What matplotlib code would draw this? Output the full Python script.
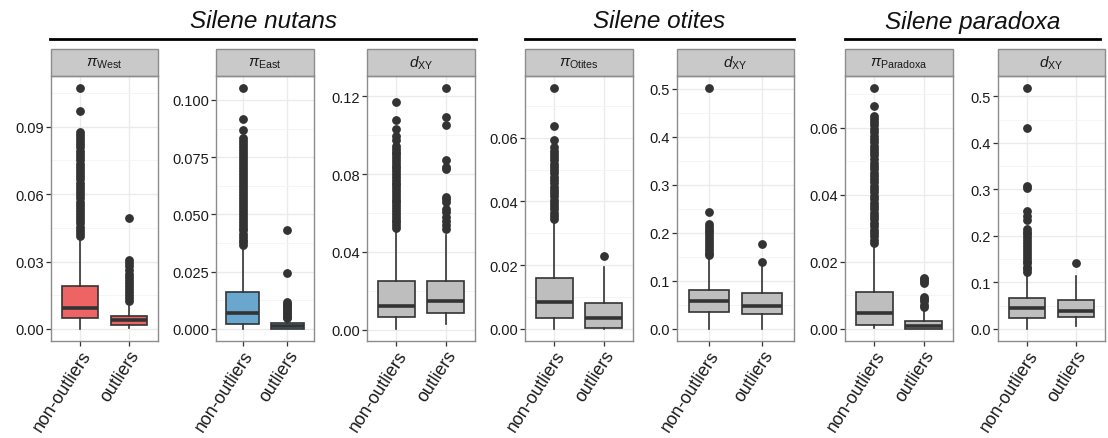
import numpy as np
import matplotlib.pyplot as plt
from matplotlib.patches import Rectangle
from matplotlib.ticker import MultipleLocator, FormatStrFormatter

plt.rcParams['font.family'] = ['Liberation Sans', 'DejaVu Sans']
plt.rcParams['mathtext.fontset'] = 'custom'
plt.rcParams['mathtext.rm'] = 'Liberation Sans'
plt.rcParams['mathtext.it'] = 'Liberation Sans:italic'

groups = ['non-outliers', 'outliers']

# S. nutans, pi West
west_q1 = [0.00475, 0.0018]
west_med = [0.0093, 0.0040]
west_q3 = [0.0193, 0.0059]
west_lo = [0.0, 0.0006]
west_hi = [0.0415, 0.0104]
west_fl_non = [0.0415, 0.0428, 0.0441, 0.0455, 0.0470, 0.0484, 0.0497, 0.0511, 0.0526,
               0.0540, 0.0553, 0.0567, 0.0582, 0.0596, 0.0610, 0.0623, 0.0637, 0.0651,
               0.0666, 0.0680, 0.0694, 0.0708, 0.0722, 0.0736, 0.0750, 0.0764, 0.0779,
               0.0793, 0.0808, 0.0822, 0.0836, 0.0851, 0.0863, 0.0875, 0.0971, 0.1072]
west_fl_out = [0.0126, 0.0138, 0.0150, 0.0163, 0.0178, 0.0192, 0.0205, 0.0218, 0.0232,
               0.0245, 0.0262, 0.0278, 0.0293, 0.0308, 0.0492]

# S. nutans, pi East
east_q1 = [0.0022, 0.0001]
east_med = [0.0071, 0.0014]
east_q3 = [0.0162, 0.0025]
east_lo = [0.0, 0.0]
east_hi = [0.0365, 0.0043]
east_fl_non = [0.0365, 0.0378, 0.0390, 0.0403, 0.0416, 0.0430, 0.0442, 0.0455, 0.0468,
               0.0481, 0.0495, 0.0508, 0.0521, 0.0534, 0.0547, 0.0560, 0.0573, 0.0586,
               0.0599, 0.0612, 0.0625, 0.0638, 0.0651, 0.0664, 0.0677, 0.0690, 0.0703,
               0.0716, 0.0729, 0.0742, 0.0755, 0.0768, 0.0781, 0.0794, 0.0807, 0.0820,
               0.0833, 0.0867, 0.0916, 0.1052]
east_fl_out = [0.0047, 0.0054, 0.0062, 0.0070, 0.0078, 0.0086, 0.0094, 0.0103, 0.0110,
               0.0116, 0.0246, 0.0430]

# S. nutans, dXY
nut_dxy_q1 = [0.0062, 0.0087]
nut_dxy_med = [0.0123, 0.0149]
nut_dxy_q3 = [0.0250, 0.0250]
nut_dxy_lo = [0.0003, 0.0029]
nut_dxy_hi = [0.0522, 0.0488]
nut_dxy_fl_non = [0.0522, 0.0536, 0.0551, 0.0566, 0.0580, 0.0595, 0.0610, 0.0624, 0.0639,
                  0.0654, 0.0668, 0.0683, 0.0698, 0.0712, 0.0727, 0.0742, 0.0756, 0.0771,
                  0.0786, 0.0800, 0.0815, 0.0830, 0.0844, 0.0859, 0.0874, 0.0888, 0.0903,
                  0.0916, 0.0928, 0.0945, 0.0974, 0.0996, 0.1034, 0.1078, 0.1173]
nut_dxy_fl_out = [0.0515, 0.0539, 0.0560, 0.0580, 0.0603, 0.0620, 0.0654, 0.0671, 0.0680,
                  0.0825, 0.0837, 0.0875, 0.1055, 0.1096, 0.1243]

# S. otites, pi Otites
oti_q1 = [0.00355, 0.0002]
oti_med = [0.0086, 0.0033]
oti_q3 = [0.0161, 0.0080]
oti_lo = [0.0, 0.0]
oti_hi = [0.0340, 0.0193]
oti_fl_non = [0.0345, 0.0355, 0.0365, 0.0375, 0.0386, 0.0396, 0.0406, 0.0416, 0.0427,
              0.0437, 0.0447, 0.0457, 0.0468, 0.0478, 0.0488, 0.0498, 0.0509, 0.0519,
              0.0529, 0.0539, 0.0550, 0.0560, 0.0570, 0.0593, 0.0638, 0.0756]
oti_fl_out = [0.0230]

# S. otites, dXY
oti_dxy_q1 = [0.0359, 0.0317]
oti_dxy_med = [0.0572, 0.0483]
oti_dxy_q3 = [0.0821, 0.0745]
oti_dxy_lo = [0.0, 0.0]
oti_dxy_hi = [0.1476, 0.1300]
oti_dxy_fl_non = [0.153, 0.159, 0.165, 0.171, 0.177, 0.183, 0.189, 0.195, 0.201, 0.207,
                  0.213, 0.2186, 0.244, 0.5015]
oti_dxy_fl_out = [0.140, 0.176]

# S. paradoxa, pi Paradoxa
par_q1 = [0.0012, 0.0001]
par_med = [0.0047, 0.0010]
par_q3 = [0.0111, 0.0025]
par_lo = [0.0002, 0.0]
par_hi = [0.0250, 0.0060]
par_fl_non = [0.0256, 0.0266, 0.0277, 0.0287, 0.0296, 0.0306, 0.0317, 0.0327, 0.0336,
              0.0346, 0.0357, 0.0367, 0.0376, 0.0386, 0.0397, 0.0407, 0.0416, 0.0426,
              0.0437, 0.0447, 0.0456, 0.0466, 0.0477, 0.0487, 0.0496, 0.0506, 0.0517,
              0.0527, 0.0536, 0.0546, 0.0557, 0.0567, 0.0576, 0.0586, 0.0597, 0.0607,
              0.0616, 0.0626, 0.0636, 0.0663, 0.0718]
par_fl_out = [0.0065, 0.0070, 0.0082, 0.0088, 0.0094, 0.0138, 0.0143, 0.0150, 0.0153]

# S. paradoxa, dXY
par_dxy_q1 = [0.0243, 0.0257]
par_dxy_med = [0.0450, 0.0393]
par_dxy_q3 = [0.0657, 0.0614]
par_dxy_lo = [0.0, 0.0064]
par_dxy_hi = [0.1200, 0.1136]
par_dxy_fl_non = [0.122, 0.128, 0.134, 0.141, 0.147, 0.153, 0.160, 0.166, 0.172, 0.179,
                  0.185, 0.191, 0.198, 0.204, 0.208, 0.215, 0.235, 0.2436, 0.253, 0.304,
                  0.308, 0.433, 0.518]
par_dxy_fl_out = [0.1414]

strip_labels = [r'$\pi_{\mathrm{West}}$', r'$\pi_{\mathrm{East}}$', r'$d_{\mathrm{XY}}$',
                r'$\pi_{\mathrm{Otites}}$', r'$d_{\mathrm{XY}}$',
                r'$\pi_{\mathrm{Paradoxa}}$', r'$d_{\mathrm{XY}}$']
species = ['Silene nutans', 'Silene otites', 'Silene paradoxa']

panels = [
    (west_q1, west_med, west_q3, west_lo, west_hi, [west_fl_non, west_fl_out]),
    (east_q1, east_med, east_q3, east_lo, east_hi, [east_fl_non, east_fl_out]),
    (nut_dxy_q1, nut_dxy_med, nut_dxy_q3, nut_dxy_lo, nut_dxy_hi, [nut_dxy_fl_non, nut_dxy_fl_out]),
    (oti_q1, oti_med, oti_q3, oti_lo, oti_hi, [oti_fl_non, oti_fl_out]),
    (oti_dxy_q1, oti_dxy_med, oti_dxy_q3, oti_dxy_lo, oti_dxy_hi, [oti_dxy_fl_non, oti_dxy_fl_out]),
    (par_q1, par_med, par_q3, par_lo, par_hi, [par_fl_non, par_fl_out]),
    (par_dxy_q1, par_dxy_med, par_dxy_q3, par_dxy_lo, par_dxy_hi, [par_dxy_fl_non, par_dxy_fl_out]),
]

fills = ['#ee6464', '#6aa7cf', '#bebebe', '#bebebe', '#bebebe', '#bebebe', '#bebebe']
steps = [0.03, 0.025, 0.04, 0.02, 0.1, 0.02, 0.1]
fmts = ['%.2f', '%.3f', '%.2f', '%.2f', '%.1f', '%.2f', '%.1f']

W, H = 1108, 439
fig = plt.figure(figsize=(W / 100, H / 100), dpi=100)

# panel extents in pixels: (left, right); all share top/bottom
xspan = [(51, 158), (216, 314), (367, 475), (525, 633), (677, 794), (845, 953), (998, 1105)]
top_px, bot_px, strip_px = 77, 342, 27
dark = '#333333'
border = '#8c8c8c'

for i, (q1, med, q3, lo, hi, fl) in enumerate(panels):
    l, r = xspan[i]
    ax = fig.add_axes([l / W, 1 - bot_px / H, (r - l) / W, (bot_px - top_px) / H])
    stats = [dict(q1=q1[k], med=med[k], q3=q3[k], whislo=lo[k], whishi=hi[k],
                  fliers=fl[k], label=groups[k]) for k in range(2)]
    ax.bxp(stats, positions=[1, 2], widths=0.75, patch_artist=True, showcaps=False,
           boxprops=dict(facecolor=fills[i], edgecolor=dark, linewidth=1.2),
           medianprops=dict(color=dark, linewidth=2.6, solid_capstyle='butt'),
           whiskerprops=dict(color=dark, linewidth=1.2),
           flierprops=dict(marker='o', markerfacecolor=dark, markeredgecolor=dark,
                           markersize=5.3, linestyle='none'),
           zorder=3)
    vals = np.concatenate([lo, hi, fl[0], fl[1]])
    vmin, vmax = vals.min(), vals.max()
    pad = 0.05 * (vmax - vmin)
    ax.set_ylim(vmin - pad, vmax + pad)
    ax.set_xlim(0.4, 2.6)

    ax.yaxis.set_major_locator(MultipleLocator(steps[i]))
    ax.yaxis.set_minor_locator(MultipleLocator(steps[i] / 2))
    ax.yaxis.set_major_formatter(FormatStrFormatter(fmts[i]))
    ax.grid(which='major', color='#ebebeb', linewidth=1.0, zorder=0)
    ax.grid(which='minor', axis='y', color='#f4f4f4', linewidth=0.6, zorder=0)
    ax.set_axisbelow(True)
    ax.tick_params(axis='y', which='major', length=3.5, width=0.9, color=dark,
                   labelsize=10.5, labelcolor='#1a1a1a', pad=1.5)
    ax.tick_params(axis='y', which='minor', length=0)
    ax.tick_params(axis='x', length=3.5, width=0.9, color=dark, pad=1)
    ax.set_xticks([1, 2])
    ax.set_xticklabels(groups, rotation=57, ha='right', va='top',
                       rotation_mode='anchor', fontsize=12.8, color='#1a1a1a')
    for s in ax.spines.values():
        s.set_color(border)
        s.set_linewidth(1.0)

    # facet strip above the panel
    sh = strip_px / (bot_px - top_px)
    ax.add_patch(Rectangle((0, 1), 1, sh, transform=ax.transAxes, clip_on=False,
                           facecolor='#c9c9c9', edgecolor=border, linewidth=1.0))
    ax.text(0.5, 1 + sh / 2, strip_labels[i], transform=ax.transAxes,
            ha='center', va='center', fontsize=11, color='#1a1a1a')

# species headers with rules underneath
rules = [(50, 476), (525, 794), (845, 1100)]
for name, (x0, x1) in zip(species, rules):
    fig.add_artist(plt.Line2D([x0 / W, x1 / W], [1 - 40 / H, 1 - 40 / H],
                              color='black', linewidth=2.0))
    fig.text((x0 + x1) / 2 / W, 1 - 22 / H, name, ha='center', va='center',
             fontsize=17.5, style='italic', color='#111111')

fig.savefig('out.png', dpi=100)
